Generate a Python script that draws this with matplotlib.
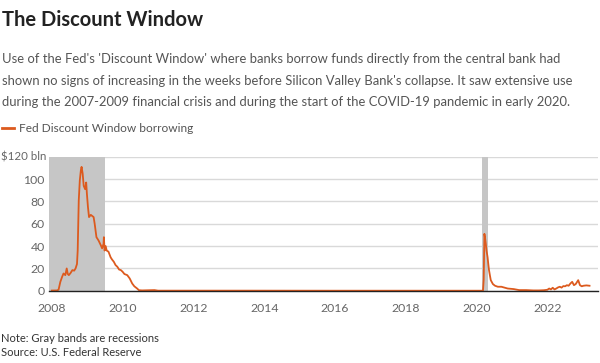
import numpy as np
import matplotlib
matplotlib.use("Agg")
from matplotlib import pyplot as plt
from matplotlib.transforms import blended_transform_factory

plt.rcParams["font.family"] = ["Lato", "DejaVu Sans"]

# weekly Fed discount window borrowing, $ bln
years = [
    2008.00, 2008.15, 2008.19, 2008.24, 2008.29, 2008.33, 2008.38, 2008.42, 2008.45, 2008.48,
    2008.53, 2008.58, 2008.63, 2008.67, 2008.71, 2008.73, 2008.76, 2008.79, 2008.82, 2008.84,
    2008.87, 2008.90, 2008.94, 2008.97, 2008.99, 2009.02, 2009.05, 2009.10, 2009.14, 2009.18,
    2009.21, 2009.26, 2009.32, 2009.38, 2009.42, 2009.46, 2009.47, 2009.49, 2009.52, 2009.55,
    2009.60, 2009.66, 2009.70, 2009.75, 2009.80, 2009.85, 2009.90, 2009.95, 2010.00, 2010.05,
    2010.13, 2010.20, 2010.27, 2010.33, 2010.41, 2010.46, 2010.55, 2010.90, 2011.00, 2013.50,
    2016.00, 2018.00, 2020.18, 2020.20, 2020.22, 2020.24, 2020.26, 2020.28, 2020.31, 2020.33,
    2020.35, 2020.38, 2020.40, 2020.46, 2020.52, 2020.60, 2020.70, 2020.80, 2020.88, 2020.95,
    2021.05, 2021.20, 2021.40, 2021.60, 2021.76, 2021.90, 2022.00, 2022.05, 2022.10, 2022.15,
    2022.20, 2022.25, 2022.30, 2022.35, 2022.40, 2022.45, 2022.50, 2022.55, 2022.60, 2022.65,
    2022.70, 2022.75, 2022.80, 2022.87, 2022.92, 2022.97, 2023.02, 2023.10, 2023.19,
]
borrowing = [
    0.2, 0.3, 1, 8, 12.5, 15.5, 14, 20, 15, 14,
    16, 18.5, 18, 20, 24, 36, 81, 99, 108, 111,
    105, 94, 91, 97, 87, 75, 66, 68, 67, 66,
    60, 48, 45, 41, 38, 42, 48, 36, 40, 36,
    35, 30, 28, 26, 23, 21.5, 19, 18.5, 17, 15,
    14, 11, 6.5, 4, 2, 0.5, 0.3, 0.6, 0.1, 0.1,
    0.05, 0.05, 0.05, 10, 51, 47, 42, 36, 30, 24,
    18.5, 13, 9.5, 6, 4.5, 3.6, 3.6, 2.7, 2, 1.8,
    1.5, 0.6, 0.6, 0.3, 0.3, 0.5, 0.9, 2, 1.2, 2.7,
    1.2, 2, 3, 3.6, 2.8, 4.2, 4, 5, 4.5, 6.5,
    8, 5, 6, 9.5, 5, 4, 4.5, 4.8, 4.5,
]

recessions = [(2007.92, 2009.5), (2020.15, 2020.32)]
tick_years = [2008, 2010, 2012, 2014, 2016, 2018, 2020, 2022]
y_ticks = [0, 20, 40, 60, 80, 100, 120]
y_labels = ["0", "20", "40", "60", "80", "100", ""]
y_top_label = "$120 bln"

orange = "#dc5a1e"

fig = plt.figure(figsize=(6, 3.63), dpi=100)
ax = fig.add_axes([0.0817, 0.199, 0.915, 0.369])

for start, end in recessions:
    ax.axvspan(start, end, color="#c6c6c6", lw=0, zorder=1)

ax.plot(years, borrowing, color=orange, lw=1.3, zorder=3)

ax.set_xlim(2007.92, 2023.43)
ax.set_ylim(0, 120)
ax.set_yticks(y_ticks)
ax.set_yticklabels(y_labels)
ax.set_xticks(tick_years)
ax.set_xticklabels([str(y) for y in tick_years])
ax.grid(axis="y", color="#d9d9d9", lw=1, zorder=0)
ax.set_axisbelow(True)
for side in ["top", "right", "left"]:
    ax.spines[side].set_visible(False)
ax.spines["bottom"].set_color("#222222")
ax.spines["bottom"].set_linewidth(1)
ax.spines["bottom"].set_zorder(4)
ax.tick_params(axis="both", length=0, labelsize=8.8, colors="#666666")
ax.tick_params(axis="y", pad=3)
ax.tick_params(axis="x", pad=9)

# top y label sits flush with the left edge of the figure
label_tf = blended_transform_factory(fig.transFigure, ax.transData)
ax.text(0.001, y_ticks[-1], y_top_label, transform=label_tf,
        fontsize=8.3, color="#666666", ha="left", va="center")

fig.text(0.004, 0.945, "The Discount Window", fontsize=14.5, fontweight="bold",
         color="#222222", va="center")
fig.text(0.004, 0.778,
         "Use of the Fed's 'Discount Window' where banks borrow funds directly from the central bank had\n"
         "shown no signs of increasing in the weeks before Silicon Valley Bank's collapse. It saw extensive use\n"
         "during the 2007-2009 financial crisis and during the start of the COVID-19 pandemic in early 2020.",
         fontsize=9.4, color="#555555", va="center", linespacing=1.98)

fig.add_artist(plt.Line2D([0.003, 0.023], [0.647, 0.647], color=orange, lw=2))
fig.text(0.032, 0.647, "Fed Discount Window borrowing", fontsize=8.6,
         color="#555555", va="center")

fig.text(0.002, 0.068, "Note: Gray bands are recessions", fontsize=8, color="#333333", va="center")
fig.text(0.002, 0.028, "Source: U.S. Federal Reserve", fontsize=8, color="#333333", va="center")

fig.savefig("out.png", dpi=100)
